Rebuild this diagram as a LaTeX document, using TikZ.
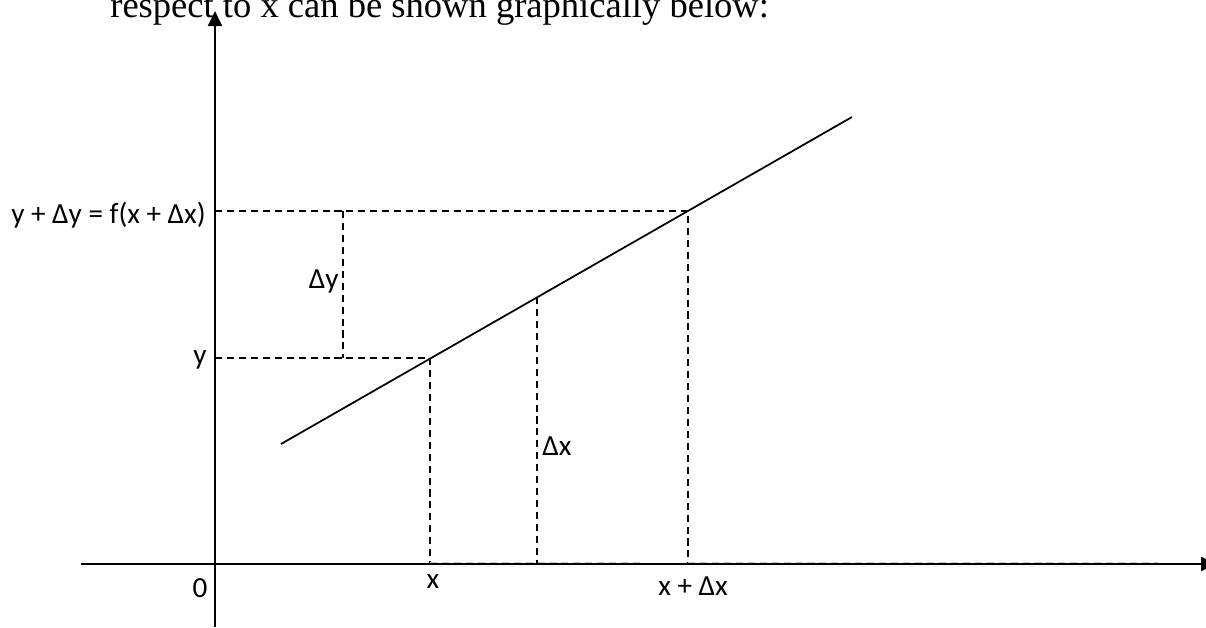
\documentclass[tikz,border=0pt]{standalone}
\usepackage{fontspec}
\setmainfont{Carlito}
\newfontfamily\pageserif{Liberation Serif}
\usetikzlibrary{arrows.meta}

\begin{document}
\begin{tikzpicture}[x=0.02cm, y=-0.02cm,
    font=\fontsize{16.6}{20}\selectfont,
    axis/.style={line width=1.1pt, -{Triangle[length=0.3cm, width=0.28cm]}},
    guide/.style={line width=0.8pt, dash pattern=on 4pt off 2.8pt},
    lbl/.style={inner sep=0pt}]
  \useasboundingbox (0,0) rectangle (1206,627);
  % line of page text, cut at the top
  \node[lbl, anchor=base west, font=\pageserif\fontsize{20.8}{24}\selectfont] (pagetext) at (110,17) {respect to x can be shown graphically below:};
  % axes
  \coordinate (O) at (215,564);
  \coordinate (xstart) at (81,564);
  \coordinate (xend) at (1216,564);
  \coordinate (ybot) at (215,627);
  \coordinate (ytop) at (215,11);
  \draw[axis] (xstart) -- (xend);
  \draw[axis] (ybot) -- (ytop);
  % the straight line y = f(x)
  \coordinate (fstart) at (281,444);
  \coordinate (fend) at (852,117);
  \coordinate (P) at (430,358);
  \coordinate (M) at (537,297);
  \coordinate (Q) at (688,211);
  \draw[line width=1pt] (fstart) -- (fend);
  % dashed guides
  \draw[guide] (O |- Q) -- (Q) -- (Q |- O);
  \draw[guide] (O |- P) -- (P) -- (P |- O);
  \coordinate (dytop) at (343,211);
  \coordinate (dybot) at (343,358);
  \draw[guide] (dytop) -- (dybot);
  \draw[guide] (M) -- (M |- O);
  % faint dashes along the x axis
  \coordinate (g1) at (430,562.5);
  \coordinate (g2) at (643,562.5);
  \coordinate (g3) at (688,562.5);
  \coordinate (g4) at (1158,562.5);
  \draw[guide, gray!45, line width=0.5pt] (g1) -- (g2) (g3) -- (g4);
  % labels
  \node[lbl, anchor=base east] (lyfx) at (206,223) {y + Δy = f(x + Δx)};
  \node[lbl, anchor=base east] (ly) at (207,364) {y};
  \node[lbl, anchor=base east] (ldy) at (339,288) {Δy};
  \node[lbl, anchor=base west] (ldx) at (542,455) {Δx};
  \node[lbl, anchor=base] (lx) at (433,588) {x};
  \node[lbl, anchor=base] (lxdx) at (693,595) {x + Δx};
  \node[lbl, anchor=base] (lzero) at (200,597) {0};
\end{tikzpicture}
\end{document}
